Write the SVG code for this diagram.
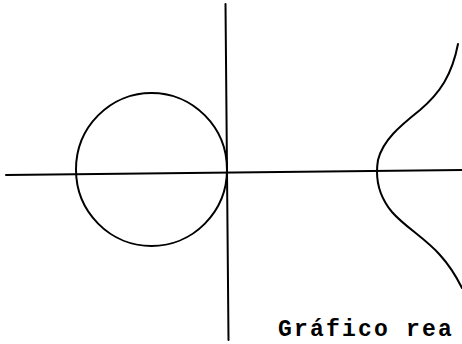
<svg xmlns="http://www.w3.org/2000/svg" width="462" height="344" viewBox="0 0 462 344">
<style>
.ln{fill:none;stroke:#000;stroke-width:2;stroke-linecap:round;stroke-linejoin:round}
.lbl{font-family:"Liberation Mono","DejaVu Sans Mono",monospace;font-size:23px;font-weight:bold;letter-spacing:2.2px;fill:#000}
</style>
<rect width="462" height="344" fill="#fff"/>
<g id="axes">
<line class="ln" x1="6" y1="175" x2="462" y2="170"/>
<line class="ln" x1="225.5" y1="4" x2="228.5" y2="340"/>
</g>
<g id="circle">
<ellipse class="ln" cx="151.5" cy="169.5" rx="75.5" ry="76.5"/>
</g>
<g id="curve">
<path class="ln" d="M458,44 C452,75 440,93 420,110 C400,126 383,140 378,160 C375,178 378,195 392,212 C405,227 425,238 440,255 C450,266 457,278 462,288"/>
</g>
<g id="caption">
<text class="lbl" x="278" y="336">Gráfico rea</text>
</g>
</svg>
